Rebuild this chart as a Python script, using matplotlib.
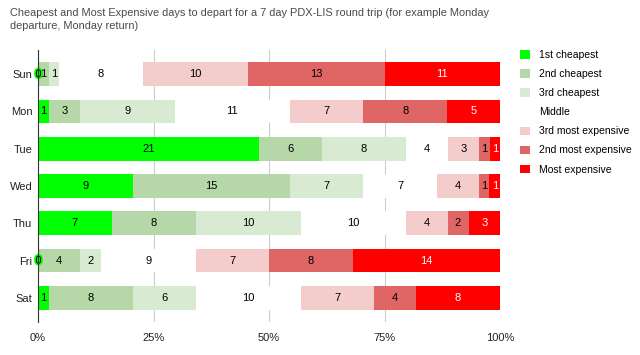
import numpy as np
import matplotlib.pyplot as plt
import matplotlib.patheffects as pe
from matplotlib.patches import Patch
from matplotlib.ticker import FuncFormatter

plt.rcParams['font.family'] = ['Liberation Sans', 'DejaVu Sans']

days = ['Sun', 'Mon', 'Tue', 'Wed', 'Thu', 'Fri', 'Sat']
series = ['1st cheapest', '2nd cheapest', '3rd cheapest', 'Middle',
          '3rd most expensive', '2nd most expensive', 'Most expensive']
colors = ['#00ff00', '#b6d7a8', '#d9ead3', '#ffffff', '#f4cccc', '#e06666', '#ff0000']
text_colors = ['black', 'black', 'black', 'black', 'black', 'black', 'white']

first_cheapest = [0, 1, 21, 9, 7, 0, 1]
second_cheapest = [1, 3, 6, 15, 8, 4, 8]
third_cheapest = [1, 9, 8, 7, 10, 2, 6]
middle = [8, 11, 4, 7, 10, 9, 10]
third_expensive = [10, 7, 3, 4, 4, 7, 7]
second_expensive = [13, 8, 1, 1, 2, 8, 4]
most_expensive = [11, 5, 1, 1, 3, 14, 8]

data = np.array([first_cheapest, second_cheapest, third_cheapest, middle,
                 third_expensive, second_expensive, most_expensive], dtype=float)
totals = data.sum(axis=0)
shares = data / totals

fig = plt.figure(figsize=(6.4, 3.55), dpi=100)
ax = fig.add_axes([38 / 640, 1 - 322 / 355, 462 / 640, 272 / 355])

y = np.arange(len(days))
left = np.zeros(len(days))
for i, name in enumerate(series):
    ax.barh(y, shares[i], left=left, height=0.64, color=colors[i], label=name, zorder=2)
    for j in range(len(days)):
        cx = left[j] + shares[i, j] / 2
        if data[i, j] == 0:
            # zero-width segment: label sits on the axis with a green halo
            t = ax.text(0.001, y[j], '0', ha='center', va='center', fontsize=8,
                        color='black', zorder=3)
            t.set_path_effects([pe.withStroke(linewidth=2.5, foreground=colors[0])])
        else:
            ax.text(cx, y[j], '%d' % data[i, j], ha='center', va='center',
                    fontsize=8, color=text_colors[i], zorder=3)
    left += shares[i]

ax.set_xlim(0, 1)
ax.set_ylim(6.65, -0.65)
ax.set_yticks(y)
ax.set_yticklabels(days)
ax.set_xticks([0, 0.25, 0.5, 0.75, 1.0])
ax.xaxis.set_major_formatter(FuncFormatter(lambda v, p: '%d%%' % round(v * 100)))
ax.grid(axis='x', color='#cccccc', linewidth=0.8, zorder=0)
for s in ['top', 'right', 'bottom']:
    ax.spines[s].set_visible(False)
ax.spines['left'].set_color('#333333')
ax.spines['left'].set_zorder(4)
ax.tick_params(axis='both', length=0, labelsize=8, colors='#222222')
ax.tick_params(axis='x', pad=8)
ax.tick_params(axis='y', pad=4)

fig.text(10 / 640, 1 - 8 / 355,
         'Cheapest and Most Expensive days to depart for a 7 day PDX-LIS round trip (for example Monday\n'
         'departure, Monday return)', ha='left', va='top', fontsize=7.95, color='#4a4a4a',
         linespacing=1.42)

handles = [Patch(facecolor=c, edgecolor='none') for c in colors]
fig.legend(handles, series, loc='upper left', bbox_to_anchor=(516 / 640, 1 - 46 / 355),
           frameon=False, fontsize=7.5, handlelength=0.9, handleheight=0.9,
           handletextpad=0.9, labelspacing=0.87, borderaxespad=0)

fig.savefig('out.png', dpi=100)
